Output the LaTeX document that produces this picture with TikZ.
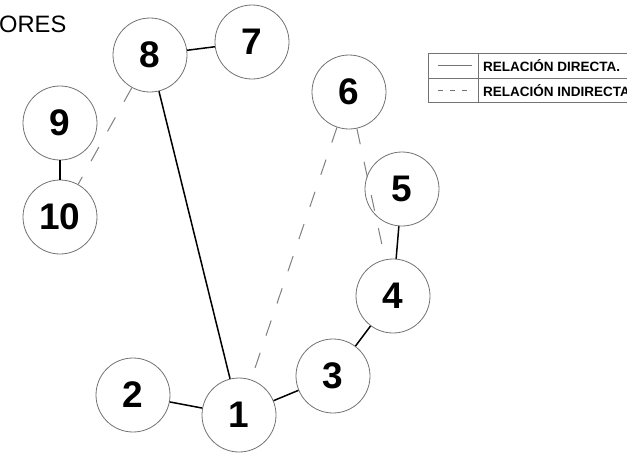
\documentclass[tikz,border=0pt]{standalone}
\usepackage{fontspec}
\setmainfont{Liberation Sans}
\definecolor{circgray}{gray}{0.45}
\definecolor{dashgray}{gray}{0.5}
\tikzset{
  actor/.style={circle, draw=circgray, line width=0.8pt, minimum size=74pt, inner sep=0pt,
    font=\bfseries\fontsize{37}{37}\selectfont},
  direct/.style={black, line width=1.5pt},
  indirect/.style={dashgray, line width=1pt, dash pattern=on 16pt off 18pt},
  legline/.style={circgray, line width=0.7pt},
  legtext/.style={anchor=west, inner sep=0pt, font=\bfseries\fontsize{13.5}{13.5}\selectfont}
}
\begin{document}
\begin{tikzpicture}[x=1pt, y=-1pt]
\clip (0,0) rectangle (627,453);
\fill[white] (0,0) rectangle (627,453);
% title
\node[anchor=base west, inner sep=0pt, font=\fontsize{23.7}{23.7}\selectfont] (title) at (-1,32) {ORES};
% actors
\node[actor] (n1) at (239,415) {1};
\node[actor] (n2) at (133,395) {2};
\node[actor] (n3) at (333,376) {3};
\node[actor] (n4) at (393,296) {4};
\node[actor] (n5) at (402,189) {5};
\node[actor] (n6) at (349,92) {6};
\node[actor] (n7) at (252,42) {7};
\node[actor] (n8) at (150,55) {8};
\node[actor] (n9) at (60,123) {9};
\node[actor] (n10) at (60,217) {10};
% direct relations
\draw[direct] (n8) -- (n7);
\draw[direct] (n8) -- (n1);
\draw[direct] (n9) -- (n10);
\draw[direct] (n2) -- (n1);
\draw[direct] (n1) -- (n3);
\draw[direct] (n3) -- (n4);
\draw[direct] (n4) -- (n5);
% indirect relations
\draw[indirect] (n8) -- (n10);
\draw[indirect] (n6) -- (n1);
\draw[indirect] (n6) -- (n4);
% legend
\coordinate (lgA) at (428,53);
\coordinate (lgB) at (720,102);
\draw[legline] (lgA) rectangle (lgB);
\coordinate (lgM1) at (428,78);
\coordinate (lgM2) at (720,78);
\draw[legline] (lgM1) -- (lgM2);
\coordinate (lgV1) at (478,53);
\coordinate (lgV2) at (478,102);
\draw[legline] (lgV1) -- (lgV2);
\coordinate (ls1) at (438,65);
\coordinate (ls2) at (472,65);
\draw[legline, line width=0.8pt] (ls1) -- (ls2);
\coordinate (ld1) at (438,90);
\coordinate (ld2) at (472,90);
\draw[legline, line width=0.8pt, dash pattern=on 5pt off 7pt] (ld1) -- (ld2);
\node[legtext] (lt1) at (483,65.5) {RELACIÓN DIRECTA.};
\node[legtext] (lt2) at (483,90.5) {RELACIÓN INDIRECTA};
\end{tikzpicture}
\end{document}
